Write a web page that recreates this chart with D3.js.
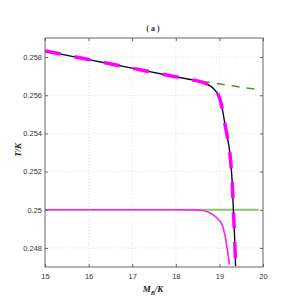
<!DOCTYPE html>
<html>
<head>
<meta charset="utf-8">
<script src="https://cdn.jsdelivr.net/npm/d3@7"></script>
<style>
  body { margin: 0; background: #fff; }
  svg { display: block; }
</style>
</head>
<body>
<svg width="298" height="298"></svg>
<script>
// values: M_B/K on x, T/K on y
const xTicks = [15, 16, 17, 18, 19, 20];
const yTicks = [0.248, 0.25, 0.252, 0.254, 0.256, 0.258];
const yTickLabels = ["0.248", "0.25", "0.252", "0.254", "0.256", "0.258"];

// full solution (black) and its dashed magenta twin
const fullM = [15, 16, 17, 17.87, 18.3, 18.6, 18.8, 18.93, 19.0, 19.06, 19.11, 19.17, 19.23, 19.29, 19.32, 19.35, 19.37];
const fullT = [0.25832, 0.25787, 0.25742, 0.25702, 0.25684, 0.25669, 0.25648, 0.25618, 0.25588, 0.25535, 0.25472, 0.25395, 0.25315, 0.25158, 0.25, 0.24850, 0.24704];

// low-temperature branch (thin magenta)
const lowM = [15, 18.0, 18.45, 18.6, 18.75, 18.86, 18.98, 19.06, 19.1, 19.14, 19.17, 19.2, 19.23];
const lowT = [0.25, 0.25, 0.24999, 0.24996, 0.24987, 0.24973, 0.24948, 0.24922, 0.24893, 0.24852, 0.24808, 0.24765, 0.24713];

// asymptotes (green)
const highAsymM = [18.6, 19.9];
const highAsymT = [0.25673, 0.25629];
const lowAsymM = [15, 19.9];
const lowAsymT = [0.25, 0.25];

const svg = d3.select("svg");
const margin = {left: 45, right: 35, top: 38, bottom: 31};
const W = 298, H = 298;

const x = d3.scaleLinear().domain([15, 20]).range([margin.left, W - margin.right]);
const y = d3.scaleLinear().domain([0.247, 0.259]).range([H - margin.bottom, margin.top]);

const zip = (a, b) => a.map((v, i) => [v, b[i]]);
const line = d3.line().x(d => x(d[0])).y(d => y(d[1])).curve(d3.curveMonotoneX);

// grid
const grid = svg.append("g");
grid.selectAll(".gx").data(xTicks.slice(1, -1)).enter().append("line")
  .attr("x1", d => x(d)).attr("x2", d => x(d))
  .attr("y1", y.range()[1]).attr("y2", y.range()[0])
  .attr("stroke", "#dcdcdc").attr("stroke-width", 0.8).attr("stroke-dasharray", "1,2");
grid.selectAll(".gy").data(yTicks).enter().append("line")
  .attr("x1", x.range()[0]).attr("x2", x.range()[1])
  .attr("y1", d => y(d)).attr("y2", d => y(d))
  .attr("stroke", "#dcdcdc").attr("stroke-width", 0.8).attr("stroke-dasharray", "1,2");

svg.append("clipPath").attr("id", "clip").append("rect")
  .attr("x", x.range()[0]).attr("y", y.range()[1])
  .attr("width", x.range()[1] - x.range()[0]).attr("height", y.range()[0] - y.range()[1]);
const plot = svg.append("g").attr("clip-path", "url(#clip)");

// green asymptotes
plot.append("path").datum(zip(lowAsymM, lowAsymT)).attr("d", line)
  .attr("fill", "none").attr("stroke", "#8cc46c").attr("stroke-width", 1.8);
plot.append("path").datum(zip(highAsymM, highAsymT)).attr("d", line)
  .attr("fill", "none").attr("stroke", "#4f9a1e").attr("stroke-width", 1.5)
  .attr("stroke-dasharray", "8,7");

// thin magenta
plot.append("path").datum(zip(lowM, lowT)).attr("d", line)
  .attr("fill", "none").attr("stroke", "#f030f0").attr("stroke-width", 1.7);

// black full curve with magenta dashes over it
const fullPts = zip(fullM, fullT);
const curve = d3.line().x(d => x(d[0])).y(d => y(d[1])).curve(d3.curveCatmullRom.alpha(0.5));
plot.append("path").datum(fullPts).attr("d", curve)
  .attr("fill", "none").attr("stroke", "#0b0b2a").attr("stroke-width", 1.4);
plot.append("path").datum(fullPts).attr("d", curve)
  .attr("fill", "none").attr("stroke", "#ff00ff").attr("stroke-width", 3.5)
  .attr("stroke-dasharray", "16,14");

// frame
svg.append("rect")
  .attr("x", x.range()[0]).attr("y", y.range()[1])
  .attr("width", x.range()[1] - x.range()[0]).attr("height", y.range()[0] - y.range()[1])
  .attr("fill", "none").attr("stroke", "#666").attr("stroke-width", 1);

// axes with inward ticks
const tickFont = "'Liberation Sans', Arial, sans-serif";
svg.append("g").attr("transform", `translate(0,${y.range()[0]})`)
  .call(d3.axisBottom(x).tickValues(xTicks).tickSize(-3).tickPadding(7).tickFormat(d3.format("d")));
svg.append("g").attr("transform", `translate(${x.range()[0]},0)`)
  .call(d3.axisLeft(y).tickValues(yTicks).tickSize(-3).tickPadding(3).tickFormat((d, i) => yTickLabels[i]));
svg.append("g").attr("transform", `translate(0,${y.range()[1]})`)
  .call(d3.axisTop(x).tickValues(xTicks).tickSize(-3).tickFormat(""));
svg.append("g").attr("transform", `translate(${x.range()[1]},0)`)
  .call(d3.axisRight(y).tickValues(yTicks).tickSize(-3).tickFormat(""));
svg.selectAll(".domain").remove();
svg.selectAll(".tick line").attr("stroke", "#666");
svg.selectAll(".tick text").attr("font-family", tickFont).attr("font-size", 7.5).attr("fill", "#333");

// title and axis labels
svg.append("text").attr("x", 153).attr("y", 31).attr("text-anchor", "middle")
  .attr("font-family", "'Liberation Serif', serif").attr("font-weight", "bold").attr("font-size", 8)
  .attr("fill", "#333").text("( a )");

const xl = svg.append("text").attr("x", 153).attr("y", 292).attr("text-anchor", "middle")
  .attr("font-family", "'Liberation Serif', serif").attr("font-weight", "bold").attr("font-style", "italic")
  .attr("font-size", 9).attr("fill", "#222");
xl.append("tspan").text("M");
xl.append("tspan").attr("font-size", 6).attr("dy", 3).text("B");
xl.append("tspan").attr("dy", -3).text("/K");

svg.append("text").attr("transform", "translate(21,150) rotate(-90)").attr("text-anchor", "middle")
  .attr("font-family", "'Liberation Serif', serif").attr("font-weight", "bold").attr("font-style", "italic")
  .attr("font-size", 9).attr("fill", "#222").text("T/K");
</script>
</body>
</html>
